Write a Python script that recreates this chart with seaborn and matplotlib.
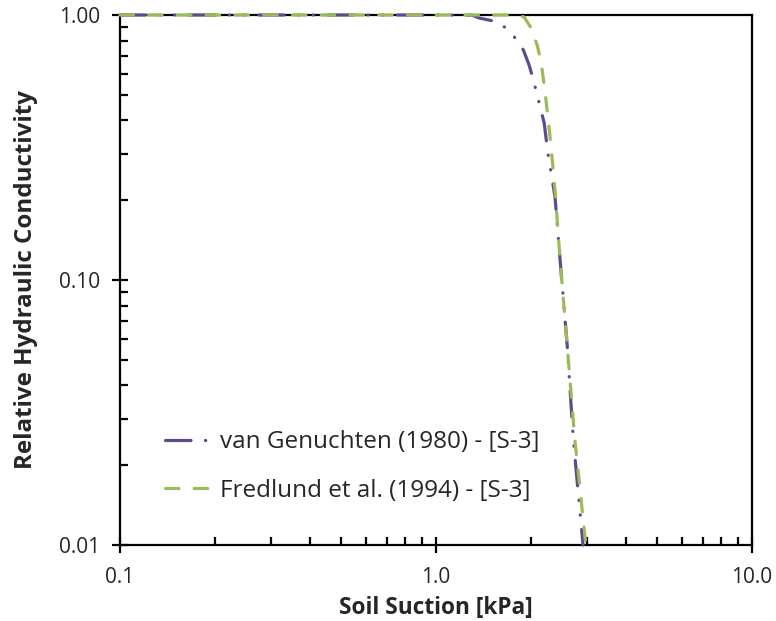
import matplotlib
matplotlib.use("Agg")
import matplotlib.pyplot as plt
from matplotlib.ticker import FixedLocator, FixedFormatter, LogLocator, NullFormatter
import numpy as np
import pandas as pd
import seaborn as sns

# Relative hydraulic conductivity curves, soil S-3
vg_suction = [0.10, 0.50, 1.00, 1.30, 1.37, 1.52, 1.67, 1.78, 1.89, 1.97, 2.03,
              2.09, 2.20, 2.26, 2.38, 2.47, 2.60, 2.72, 2.92]
vg_krel = [1.000, 1.000, 1.000, 0.998, 0.974, 0.949, 0.893, 0.819, 0.738, 0.648, 0.573,
           0.499, 0.391, 0.301, 0.206, 0.119, 0.057, 0.025, 0.010]

fr_suction = [0.10, 1.00, 1.79, 1.90, 2.00, 2.09, 2.15, 2.21, 2.26, 2.31, 2.38,
              2.47, 2.60, 2.75, 2.98]
fr_krel = [1.000, 1.000, 1.000, 0.983, 0.893, 0.770, 0.665, 0.521, 0.412, 0.323, 0.219,
           0.119, 0.057, 0.025, 0.010]

series_names = ["van Genuchten (1980) - [S-3]", "Fredlund et al. (1994) - [S-3]"]
series_colors = ["#5F4B8B", "#9BBB59"]

x_ticks = [0.1, 1.0, 10.0]
x_tick_labels = ["0.1", "1.0", "10.0"]
y_ticks = [0.01, 0.1, 1.0]
y_tick_labels = ["0.01", "0.10", "1.00"]

sns.set_theme(style="white")
plt.rcParams["font.family"] = ["Open Sans", "DejaVu Sans"]
plt.rcParams["lines.dash_capstyle"] = "round"

df = pd.concat([
    pd.DataFrame({"suction": vg_suction, "krel": vg_krel, "model": series_names[0]}),
    pd.DataFrame({"suction": fr_suction, "krel": fr_krel, "model": series_names[1]}),
], ignore_index=True)

fig = plt.figure(figsize=(7.76, 6.21), dpi=100)
ax = fig.add_axes([120 / 776, 76 / 621, 632 / 776, 530 / 621])

sns.lineplot(
    data=df, x="suction", y="krel", hue="model", style="model",
    palette=dict(zip(series_names, series_colors)),
    dashes={series_names[0]: (8, 4.5, 0.1, 4.5, 0.1, 4.5),
            series_names[1]: (4.2, 4.8)},
    linewidth=2.3, sort=False, estimator=None, ax=ax,
)
for ln in ax.get_lines():
    ln.set_clip_on(False)
    ln.set_zorder(3)

ax.set_xscale("log")
ax.set_yscale("log")
ax.set_xlim(0.1, 10.0)
ax.set_ylim(0.01, 1.0)

ax.xaxis.set_major_locator(FixedLocator(x_ticks))
ax.xaxis.set_major_formatter(FixedFormatter(x_tick_labels))
ax.yaxis.set_major_locator(FixedLocator(y_ticks))
ax.yaxis.set_major_formatter(FixedFormatter(y_tick_labels))
ax.xaxis.set_minor_locator(LogLocator(base=10, subs=np.arange(2, 10)))
ax.yaxis.set_minor_locator(LogLocator(base=10, subs=np.arange(2, 10)))
ax.xaxis.set_minor_formatter(NullFormatter())
ax.yaxis.set_minor_formatter(NullFormatter())

for s in ax.spines.values():
    s.set_color("black")
    s.set_linewidth(1.6)

ax.tick_params(axis="both", which="major", direction="inout", length=11, width=1.6,
               color="black", labelsize=15, labelcolor="#262626",
               bottom=True, left=True, top=False, right=False)
ax.tick_params(axis="x", which="major", pad=10)
ax.tick_params(axis="y", which="major", pad=9)
ax.tick_params(axis="both", which="minor", direction="in", length=5.5, width=1.6,
               color="black", bottom=True, left=True, top=False, right=False)

ax.set_xlabel("Soil Suction [kPa]", fontsize=16.3, fontweight="bold", labelpad=6)
ax.set_ylabel("Relative Hydraulic Conductivity", fontsize=17.4, fontweight="bold",
              labelpad=15)

leg = ax.legend(loc="lower left", bbox_to_anchor=(0.071, 0.080), frameon=False,
                fontsize=17.5, handlelength=1.85, handletextpad=0.4, labelspacing=1.0,
                borderpad=0, borderaxespad=0, title=None)
for h in leg.get_lines():
    h.set_linewidth(2.3)

fig.savefig("out.png", dpi=100, facecolor="white")
